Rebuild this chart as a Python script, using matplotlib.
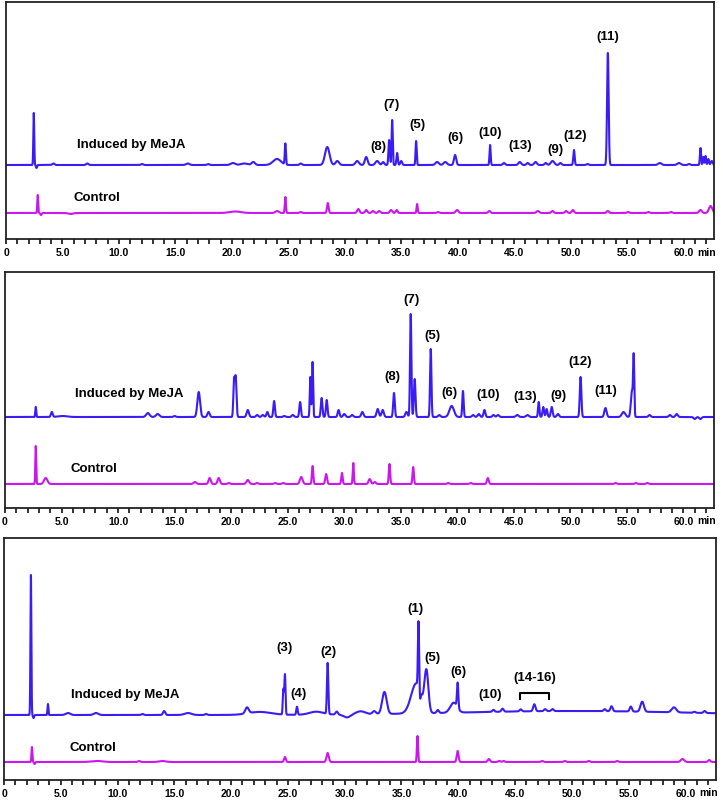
import numpy as np
import matplotlib
matplotlib.use("Agg")
import matplotlib.pyplot as plt
from matplotlib.ticker import MultipleLocator, FixedLocator, FixedFormatter

plt.rcParams["font.family"] = ["Liberation Sans", "DejaVu Sans"]

BLUE = "#3a1cf5"
MAGENTA = "#cc16f0"

# ── Peak tables: (retention time min, height, width) ──
# Panel 1
P1_INDUCED_BASE = 74
P1_INDUCED = [
    (2.46, 52, 0.04), (2.7, -3, 0.05), (4.2, 1.5, 0.1), (7.2, 1.5, 0.1),
    (12.05, 1, 0.1), (16.1, 1.5, 0.15), (17.9, 1, 0.1), (20.1, 2, 0.2),
    (21.1, 1.5, 0.3), (21.9, 3, 0.15), (24.0, 6, 0.35), (24.74, 21, 0.05),
    (26.1, 1.5, 0.1), (28.45, 18, 0.2), (29.34, 4, 0.15), (31.1, 4, 0.15),
    (31.9, 8, 0.12), (32.87, 4, 0.15), (33.4, 3, 0.1), (33.93, 25, 0.06),
    (34.2, 45, 0.05), (34.64, 12, 0.06), (35.0, 4, 0.08), (36.32, 24, 0.05),
    (38.18, 3, 0.15), (38.9, 3, 0.15), (39.77, 10, 0.1), (42.87, 20, 0.05),
    (44.1, 2, 0.1), (45.5, 3, 0.12), (46.2, 2, 0.1), (46.9, 3, 0.12),
    (47.8, 2, 0.1), (48.4, 4, 0.15), (49.1, 2, 0.1), (50.3, 15, 0.06),
    (51.5, 1, 0.1), (53.3, 112, 0.07), (57.9, 2, 0.15), (59.6, 2, 0.15),
    (60.5, 1, 0.1), (61.5, 17, 0.05), (61.75, 8, 0.05), (61.95, 9, 0.05),
    (62.2, 6, 0.06), (62.5, 4, 0.08),
]
P1_CONTROL_BASE = 26
P1_CONTROL = [
    (2.81, 18, 0.04), (3.1, -2, 0.06), (5.73, -1, 0.2), (20.3, 1.5, 0.5),
    (24.0, 2, 0.15), (24.74, 16, 0.05), (26.1, 1, 0.1), (28.5, 10, 0.07),
    (31.2, 4, 0.1), (31.9, 3, 0.1), (32.5, 2, 0.1), (33.05, 2, 0.1),
    (34.1, 3, 0.1), (34.6, 3, 0.08), (36.41, 9, 0.05), (38.27, 1, 0.1),
    (39.95, 3, 0.12), (42.8, 2, 0.1), (47.1, 2, 0.12), (48.4, 2, 0.1),
    (49.6, 2, 0.1), (50.2, 3, 0.1), (53.3, 2, 0.1), (55.1, 1, 0.1),
    (56.9, 1, 0.1), (58.9, 1, 0.1), (61.5, 3, 0.12), (62.4, 7, 0.15),
]
P1_LABELS = ["(8)", "(7)", "(5)", "(6)", "(10)", "(13)", "(9)", "(12)", "(11)"]
P1_LABEL_RT = [32.96, 34.1, 36.41, 39.77, 42.86, 45.5, 48.7, 50.38, 53.3]
P1_LABEL_Y = [92, 134, 114, 101, 106, 93, 89, 103, 202]

# Panel 2
P2_INDUCED_BASE = 91
P2_INDUCED = [
    (2.72, 10, 0.04), (4.14, 5, 0.08), (5.1, 1, 0.4), (12.63, 4, 0.15),
    (13.5, 3, 0.15), (15.0, 1, 0.1), (17.13, 25, 0.12), (18.0, 5, 0.1),
    (20.25, 35, 0.06), (20.4, 40, 0.07), (21.47, 7, 0.1), (22.3, 2, 0.1),
    (22.8, 2, 0.1), (23.2, 5, 0.08), (23.8, 16, 0.07), (24.7, 1, 0.1),
    (25.45, 2, 0.1), (26.1, 15, 0.07), (27.0, 40, 0.05), (27.2, 55, 0.05),
    (28.0, 19, 0.07), (28.45, 17, 0.07), (29.5, 7, 0.08), (30.0, 3, 0.1),
    (30.7, 2, 0.1), (31.6, 5, 0.1), (32.96, 8, 0.1), (33.4, 7, 0.1),
    (34.4, 24, 0.07), (35.5, 5, 0.1), (35.88, 103, 0.06), (36.23, 38, 0.07),
    (37.65, 68, 0.06), (38.4, 2, 0.1), (39.5, 11, 0.2), (40.5, 26, 0.06),
    (41.4, 2, 0.1), (41.9, 3, 0.1), (42.4, 7, 0.08), (43.2, 2, 0.1),
    (43.6, 2, 0.1), (45.3, 2, 0.12), (46.2, 2, 0.12), (47.2, 15, 0.06),
    (47.6, 10, 0.07), (47.9, 8, 0.07), (48.35, 10, 0.08), (48.9, 3, 0.1),
    (50.9, 40, 0.07), (53.1, 9, 0.1), (54.7, 5, 0.15), (55.45, 26, 0.1),
    (55.6, 55, 0.05), (57.0, 2, 0.1), (58.8, 2, 0.1), (59.4, 3, 0.1),
    (61.0, -2, 0.1), (61.5, -2, 0.1),
]
P2_CONTROL_BASE = 24
P2_CONTROL = [
    (2.72, 38, 0.04), (3.6, 6, 0.15), (16.8, 2, 0.12), (18.1, 6, 0.1),
    (18.9, 6, 0.1), (19.8, 1, 0.1), (21.47, 4, 0.12), (22.3, 1, 0.1),
    (23.9, 1, 0.1), (24.6, 1, 0.1), (26.2, 7, 0.12), (27.2, 18, 0.06),
    (28.4, 10, 0.08), (29.8, 11, 0.06), (30.8, 21, 0.05), (32.25, 5, 0.1),
    (32.7, 2, 0.1), (34.0, 20, 0.06), (36.1, 17, 0.06), (39.2, 1, 0.1),
    (41.2, 1, 0.1), (42.7, 6, 0.08), (54.0, 1, 0.1), (55.8, 1, 0.1),
    (56.8, 1, 0.1),
]
P2_LABELS = ["(8)", "(7)", "(5)", "(6)", "(10)", "(13)", "(9)", "(12)", "(11)"]
P2_LABEL_RT = [34.3, 35.97, 37.8, 39.33, 42.7, 45.96, 48.96, 50.9, 53.1]
P2_LABEL_Y = [131, 208, 172, 115, 113, 111, 112, 146, 117]

# Panel 3
P3_INDUCED_BASE = 65
P3_INDUCED = [
    (2.37, 140, 0.04), (2.6, -3, 0.05), (3.87, 11, 0.04), (5.64, 2, 0.2),
    (8.1, 2, 0.2), (12.2, 1, 0.1), (14.1, 4, 0.1), (16.2, 2, 0.3),
    (17.8, 1, 0.1), (21.4, 6, 0.15), (22.5, 3, 1.0), (24.6, 25, 0.05),
    (24.74, 40, 0.05), (25.8, 8, 0.06), (27.5, 3, 0.6), (28.5, 51, 0.06),
    (29.3, 3, 0.1), (30.2, -3, 0.3), (31.4, 3, 0.4), (32.6, 3, 0.15),
    (33.5, 22, 0.2), (36.3, 30, 0.45), (36.5, 65, 0.05), (36.65, -8, 0.04),
    (37.2, 40, 0.17), (38.2, 3, 0.1), (39.6, 10, 0.3), (39.95, 25, 0.06),
    (43.1, 2, 0.1), (43.9, 3, 0.1), (45.5, 2, 0.1), (46.7, 7, 0.1),
    (47.65, 2, 0.1), (48.3, 2, 0.1), (50.0, 4, 10.0), (52.9, 2, 0.1),
    (53.5, 5, 0.1), (55.2, 5, 0.1), (56.2, 10, 0.15), (59.0, 5, 0.2),
    (60.8, 1, 0.1), (61.7, 2, 0.1),
]
P3_CONTROL_BASE = 18
P3_CONTROL = [
    (2.46, 15, 0.04), (2.7, -2, 0.05), (8.2, 1, 0.5), (11.9, 1, 0.1),
    (13.95, 1, 0.3), (24.74, 5, 0.08), (28.5, 9, 0.1), (36.41, 26, 0.05),
    (39.95, 11, 0.08), (42.7, 3, 0.1), (43.6, 1, 0.1), (44.0, 1, 0.1),
    (47.4, 1, 0.1), (49.4, 1, 0.1), (51.5, 1, 0.1), (54.0, 1, 0.1),
    (59.75, 3, 0.15), (62.1, 2, 0.1),
]
P3_LABELS = ["(3)", "(4)", "(2)", "(1)", "(5)", "(6)", "(10)", "(14-16)"]
P3_LABEL_RT = [24.74, 25.9, 28.6, 36.23, 37.7, 40.0, 42.8, 46.76]
P3_LABEL_Y = [132, 86, 128, 171, 122, 108, 85, 102]

TICK_POS = list(range(0, 65, 5))[:13]
TICK_TEXT = ["0"] + [f"{v:.1f}" for v in TICK_POS[1:]]


def trace(t, base, peaks):
    y = np.full_like(t, float(base))
    for rt, h, w in peaks:
        y += h * np.exp(-0.5 * ((t - rt) / w) ** 2)
    return y


fig = plt.figure(figsize=(7.23, 8.01), dpi=100)
W, H = 723, 801

# (left px, right px, top px, bottom px)
boxes = [(6, 714, 2, 239), (5, 714, 272, 508), (4, 716, 538, 780)]
panels = [
    (P1_INDUCED_BASE, P1_INDUCED, P1_CONTROL_BASE, P1_CONTROL,
     P1_LABELS, P1_LABEL_RT, P1_LABEL_Y, (6.26, 94), (6.0, 41)),
    (P2_INDUCED_BASE, P2_INDUCED, P2_CONTROL_BASE, P2_CONTROL,
     P2_LABELS, P2_LABEL_RT, P2_LABEL_Y, (6.17, 114), (5.82, 39)),
    (P3_INDUCED_BASE, P3_INDUCED, P3_CONTROL_BASE, P3_CONTROL,
     P3_LABELS, P3_LABEL_RT, P3_LABEL_Y, (5.9, 85), (5.8, 32)),
]

t = np.arange(0, 62.75, 0.005)
XMAX = 62.7

for (l, r, top, bot), (ib, ipk, cb, cpk, labs, lrt, ly, itxt, ctxt) in zip(boxes, panels):
    ax = fig.add_axes([l / W, 1 - bot / H, (r - l) / W, (bot - top) / H])
    hpx = bot - top
    ax.plot(t, trace(t, ib, ipk), color=BLUE, lw=1.5, solid_joinstyle="round")
    ax.plot(t, trace(t, cb, cpk), color=MAGENTA, lw=1.5, solid_joinstyle="round")
    ax.set_xlim(0, XMAX)
    ax.set_ylim(0, hpx)
    ax.set_yticks([])
    ax.xaxis.set_major_locator(FixedLocator(TICK_POS))
    ax.xaxis.set_major_formatter(FixedFormatter(TICK_TEXT))
    ax.xaxis.set_minor_locator(MultipleLocator(1))
    ax.tick_params(axis="x", which="both", direction="out", length=3.5,
                   width=1.3, color="#222222", pad=3)
    for lab in ax.get_xticklabels():
        lab.set_fontsize(7.5)
        lab.set_fontweight("bold")
    for sp in ax.spines.values():
        sp.set_linewidth(1.3)
        sp.set_color("#222222")
    ax.text(61.2, -8.5, "min", fontsize=7.5, fontweight="bold",
            ha="left", va="top", clip_on=False)

    for txt, x, y in zip(labs, lrt, ly):
        ax.text(x, y, txt, fontsize=9.5, fontweight="bold", ha="center", va="center")
    ax.text(itxt[0], itxt[1], "Induced by MeJA", fontsize=9.5, fontweight="bold",
            ha="left", va="center")
    ax.text(ctxt[0], ctxt[1], "Control", fontsize=9.5, fontweight="bold",
            ha="left", va="center")

    if labs is P3_LABELS:
        # bracket over peaks 14-16
        ax.plot([45.43, 45.43, 48.0, 48.0], [81, 87, 87, 81], color="black", lw=1.5)

fig.savefig("out.png", dpi=100)
